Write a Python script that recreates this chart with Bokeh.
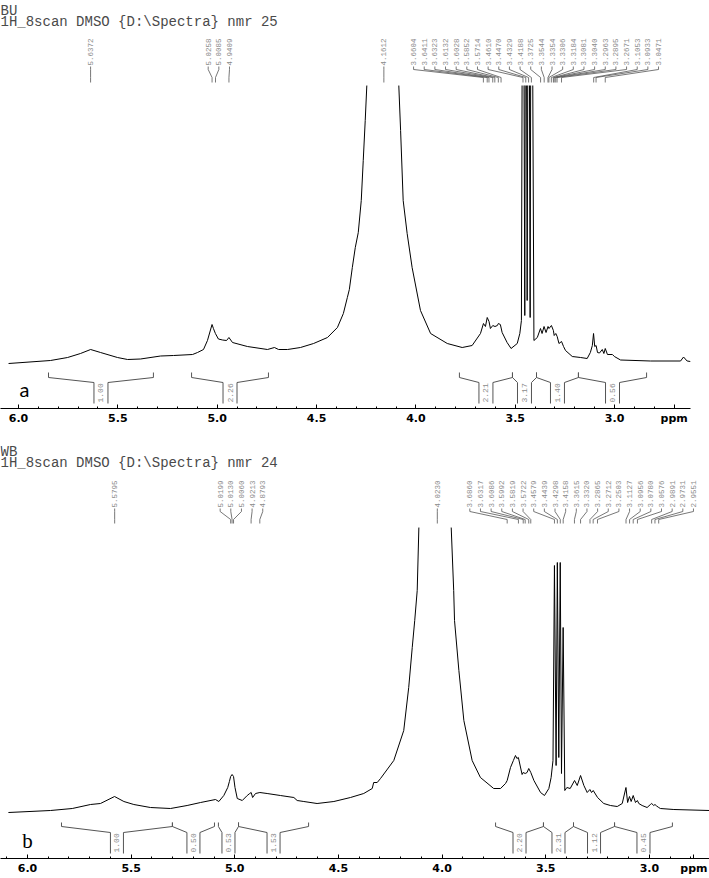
import math
from bokeh.plotting import figure
from bokeh.layouts import column
from bokeh.models import Range1d, FixedTicker, CustomJSTickFormatter
from bokeh.core.properties import value
from bokeh.embed import file_html
from bokeh.resources import INLINE

# ---------------- data ----------------
a_ppm = [6.050, 5.839, 5.753, 5.688, 5.637, 5.587, 5.502, 5.451, 5.386, 5.285,
         5.220, 5.124, 5.099, 5.069, 5.049, 5.026, 5.019, 5.009, 4.994, 4.973,
         4.953, 4.941, 4.923, 4.848, 4.747, 4.712, 4.691, 4.646, 4.581, 4.515,
         4.445, 4.395, 4.365, 4.345, 4.335, 4.320, 4.305, 4.290, 4.275, 4.265,
         4.255, 4.247, 4.161, 4.086, 4.077, 4.064, 4.044, 4.019, 3.977, 3.926,
         3.842, 3.767, 3.717, 3.675, 3.660, 3.650, 3.641, 3.632, 3.625, 3.613,
         3.602, 3.590, 3.585, 3.575, 3.566, 3.541, 3.521, 3.490, 3.477, 3.469,
         3.461, 3.452, 3.447, 3.440, 3.433, 3.425, 3.419, 3.406, 3.389, 3.373,
         3.365, 3.355, 3.345, 3.335, 3.330, 3.318, 3.308, 3.304, 3.296, 3.289,
         3.280, 3.267, 3.257, 3.247, 3.213, 3.171, 3.138, 3.122, 3.112, 3.106,
         3.100, 3.093, 3.086, 3.076, 3.062, 3.054, 3.047, 3.036, 3.011, 3.001,
         2.970, 2.819, 2.668, 2.653, 2.635, 2.618]
a_int = [1, 4, 7, 11, 15, 12, 7, 5, 5.5, 8.5,
         9, 10, 12, 15, 24, 40, 36, 31, 25.5, 24.5,
         24, 27, 22, 18, 15, 17, 15, 15, 17, 21,
         27, 37, 51, 67, 75, 97, 117, 132, 164, 204,
         244, 279, 1500, 279, 234, 164, 131, 97, 54, 31,
         21, 17, 19, 31, 41, 38, 47, 43, 36, 39,
         38, 39, 41, 40, 32, 22, 16, 21, 31, 44,
         600, 49, 600, 64, 600, 47, 600, 24, 27, 36,
         31, 38, 32, 38, 36, 39, 34, 29, 31, 28,
         21, 23, 18, 14, 8, 7, 6, 12, 19, 31,
         18, 19, 12, 11.5, 15, 11, 16, 10, 10, 8,
         4.5, 3.5, 3.5, 7.5, 3.5, 3]
a_peaks = [5.6372, 5.0258, 5.0085, 4.9409, 4.1612, 3.6604, 3.6411, 3.6323, 3.6132,
           3.6028, 3.5852, 3.5714, 3.4610, 3.4470, 3.4329, 3.4188, 3.3725, 3.3544,
           3.3354, 3.3306, 3.3184, 3.3081, 3.3040, 3.2963, 3.2895, 3.2671, 3.1053,
           3.0933, 3.0471]
a_integ_left = [5.849, 5.129, 3.781, 3.514, 3.393, 3.182]
a_integ_right = [5.321, 4.742, 3.514, 3.393, 3.182, 2.839]
a_integ_value = [1.00, 2.26, 2.21, 3.17, 1.40, 0.56]

b_ppm = [6.092, 5.889, 5.784, 5.696, 5.648, 5.580, 5.535, 5.487, 5.407, 5.310,
         5.230, 5.165, 5.093, 5.077, 5.053, 5.034, 5.026, 5.020, 5.013, 5.006,
         4.999, 4.988, 4.964, 4.940, 4.928, 4.921, 4.914, 4.900, 4.879, 4.844,
         4.780, 4.715, 4.699, 4.667, 4.603, 4.522, 4.442, 4.378, 4.337, 4.330,
         4.313, 4.297, 4.233, 4.185, 4.161, 4.144, 4.132, 4.120, 4.112, 4.023,
         3.956, 3.944, 3.940, 3.919, 3.895, 3.855, 3.815, 3.751, 3.718, 3.694,
         3.686, 3.670, 3.656, 3.646, 3.639, 3.632, 3.614, 3.609, 3.599, 3.590,
         3.582, 3.572, 3.557, 3.525, 3.506, 3.485, 3.474, 3.465, 3.458, 3.450,
         3.444, 3.437, 3.430, 3.424, 3.416, 3.408, 3.398, 3.382, 3.361, 3.348,
         3.332, 3.316, 3.300, 3.287, 3.279, 3.271, 3.250, 3.220, 3.188, 3.155,
         3.131, 3.113, 3.105, 3.096, 3.088, 3.078, 3.067, 3.058, 3.051, 3.035,
         3.011, 2.995, 2.989, 2.979, 2.973, 2.965, 2.955, 2.947, 2.882, 2.710]
b_int = [0, 2, 4, 8, 9, 16, 11, 8, 5, 4,
         7, 10, 13, 11, 17, 25, 31, 36, 38, 36,
         25, 14, 12, 17, 19, 20, 15, 19, 20, 19,
         17, 15, 12, 11, 9, 11, 15, 19, 24, 30,
         30, 34, 52, 82, 125, 165, 192, 222, 285, 1200,
         285, 222, 192, 142, 92, 52, 35, 24, 24, 29,
         32, 45, 52, 57, 54, 55, 38, 40, 39, 40,
         44, 40, 32, 20, 17, 24, 35, 52, 247, 47,
         250, 55, 250, 39, 185, 22, 25, 24, 32, 27,
         37, 27, 20, 23, 20, 22, 15, 9, 7, 6,
         9, 25, 10, 16, 11, 17, 10, 12, 9, 7,
         5, 8, 9, 7, 8, 6.5, 5, 4, 3, 2]
b_peaks = [5.5795, 5.0199, 5.0130, 5.0060, 4.9213, 4.8793, 4.0230, 3.6860, 3.6317,
           3.6086, 3.5992, 3.5819, 3.5722, 3.4579, 3.4439, 3.4298, 3.4158, 3.3615,
           3.3320, 3.2865, 3.2712, 3.2503, 3.1127, 3.0956, 3.0780, 3.0576, 2.9891,
           2.9731, 2.9551]
b_integ_left = [5.836, 5.301, 5.079, 4.982, 3.742, 3.511, 3.366, 3.168]
b_integ_right = [5.301, 5.098, 4.982, 4.644, 3.511, 3.366, 3.168, 2.889]
b_integ_value = [1.00, 0.50, 0.53, 1.53, 2.20, 2.31, 1.12, 0.45]

tick_values = [6.0, 5.5, 5.0, 4.5, 4.0, 3.5, 3.0]
minor_values = [6.1, 6.0, 5.9, 5.8, 5.7, 5.6, 5.5, 5.4, 5.3, 5.2, 5.1, 5.0, 4.9, 4.8,
                4.7, 4.6, 4.5, 4.4, 4.3, 4.2, 4.1, 4.0, 3.9, 3.8, 3.7, 3.6, 3.5,
                3.4, 3.3, 3.2, 3.1, 3.0, 2.9, 2.8, 2.7]
unit_label = "ppm"

header_a = ["BU", "1H_8scan DMSO {D:\\Spectra} nmr 25"]
header_b = ["WB", "1H_8scan DMSO {D:\\Spectra} nmr 24"]

# ---------------- layout / style ----------------
W = 709
MONO = "Liberation Mono"
LABEL_GRAY = "#8a8a8a"
LINE_GRAY = "#555555"
COMMON = dict(output_backend="svg", toolbar_location=None, frame_align=False,
              min_border_left=0, min_border_top=0, outline_line_color=None)


def spread_labels(peaks, x0, x1, frame_px, gap_px):
    ppx = frame_px / (x0 - x1)
    pos = [(x0 - p) * ppx for p in peaks]
    order = sorted(range(len(pos)), key=lambda i: pos[i])
    clusters = [[i] for i in order]

    def bounds(c):
        m = sum(pos[i] for i in c) / len(c)
        half = (len(c) - 1) / 2 * gap_px
        return m - half, m + half

    changed = True
    while changed:
        changed = False
        for k in range(len(clusters) - 1):
            if bounds(clusters[k + 1])[0] - bounds(clusters[k])[1] < gap_px - 1e-9:
                clusters[k] = clusters[k] + clusters[k + 1]
                del clusters[k + 1]
                changed = True
                break
    lab = [0.0] * len(pos)
    for c in clusters:
        lo, _ = bounds(c)
        for j, i in enumerate(sorted(c, key=lambda i: pos[i])):
            lab[i] = x0 - (lo + j * gap_px) / ppx
    return lab


def label_strip(xr, height, border_right, peaks, frame_px, header, y_h1, y_h2, leader_bottom):
    p = figure(width=W, height=height, x_range=xr, y_range=Range1d(0, height),
               x_axis_location=None, y_axis_location=None,
               min_border_right=border_right, min_border_bottom=0, **COMMON)
    p.xgrid.visible = False
    p.ygrid.visible = False
    lx = spread_labels(peaks, xr.start, xr.end, frame_px, 10.65)
    xs = [[l, l, pk, pk] for l, pk in zip(lx, peaks)]
    ys = [[19, 16, 8, leader_bottom] for _ in peaks]
    p.multi_line(xs, ys, line_color=LINE_GRAY, line_width=0.8)
    p.text(x=lx, y=[20] * len(lx), text=["%.4f" % v for v in peaks], angle=math.pi / 2,
           text_align="left", text_baseline="middle", text_font=value(MONO),
           text_font_size="7.5px", text_color=LABEL_GRAY)
    p.text(x=[xr.start] * 2, y=[y_h1, y_h2], text=header, text_align="left",
           text_baseline="alphabetic", text_font=value(MONO), text_font_size="14px",
           text_color="#4a4a4a", x_offset=0)
    return p


def spectrum_fig(xr, yr, height, border_bottom, border_right, ppm, inten,
                 il, ir, iv, yb, hw, letter, letter_font, letter_xy, unit_pos):
    p = figure(width=W, height=height, x_range=xr, y_range=yr, y_axis_location=None,
               min_border_right=border_right, min_border_bottom=border_bottom, **COMMON)
    p.xgrid.visible = False
    p.ygrid.visible = False
    p.line(ppm, inten, line_color="black", line_width=1)
    # integral brackets
    y_tick, y_diag, y_top, y_bot = yb
    xs, ys, cx = [], [], []
    for l, r in zip(il, ir):
        c = (l + r) / 2
        cx.append(c)
        xs.append([l, l, c + hw, c + hw]); ys.append([y_tick, y_diag, y_top, y_bot])
        xs.append([c - hw, c - hw, r, r]); ys.append([y_bot, y_top, y_diag, y_tick])
    p.multi_line(xs, ys, line_color=LINE_GRAY, line_width=1)
    p.text(x=cx, y=[y_bot + 1] * len(cx), text=["%.2f" % v for v in iv], angle=math.pi / 2,
           text_align="left", text_baseline="middle", text_font=value(MONO),
           text_font_size="8px", text_color=LABEL_GRAY)
    p.text(x=[letter_xy[0]], y=[letter_xy[1]], text=[letter], text_align="center",
           text_baseline="middle", text_font=value(letter_font[0]),
           text_font_size=letter_font[1], text_color="black")
    ax = p.xaxis[0]
    ax.ticker = FixedTicker(ticks=tick_values + [unit_pos], minor_ticks=minor_values)
    ax.formatter = CustomJSTickFormatter(
        args=dict(unit=unit_label, upos=unit_pos),
        code="return Math.abs(tick - upos) < 1e-6 ? unit : tick.toFixed(1);")
    ax.major_label_text_font = "DejaVu Sans"
    ax.major_label_text_font_style = "bold"
    ax.major_label_text_font_size = "11px"
    ax.major_label_text_color = "black"
    ax.major_label_standoff = 3
    ax.major_tick_in = 4
    ax.major_tick_out = 0
    ax.minor_tick_in = 2
    ax.minor_tick_out = 0
    ax.axis_line_color = "black"
    ax.major_tick_line_color = "black"
    ax.minor_tick_line_color = "black"
    return p


xr_a = Range1d(6.0906, 2.618)
xr_b = Range1d(6.1302, 2.710)

fa_top = label_strip(xr_a, 85, 19, a_peaks, 690, header_a, 74.5, 63.5, 3)
fa = spectrum_fig(xr_a, Range1d(-44, 279), 355, 32, 19, a_ppm, a_int,
                  a_integ_left, a_integ_right, a_integ_value,
                  (-8, -13, -18, -39), 0.0352, "a", ("Lato", "20px"), (5.97, -24), 2.70)
fb_top = label_strip(xr_b, 87, 0, b_peaks, 709, header_b, 76, 65, 4)
fb = spectrum_fig(xr_b, Range1d(-46, 285), 350, 19, 0, b_ppm, b_int,
                  b_integ_left, b_integ_right, b_integ_value,
                  (-10, -14, -20, -41), 0.0314, "b", ("Liberation Serif", "21px"), (6.0, -28), 2.785)

layout = column(fa_top, fa, fb_top, fb, spacing=0)
open("out.html", "w").write(file_html(layout, INLINE))
